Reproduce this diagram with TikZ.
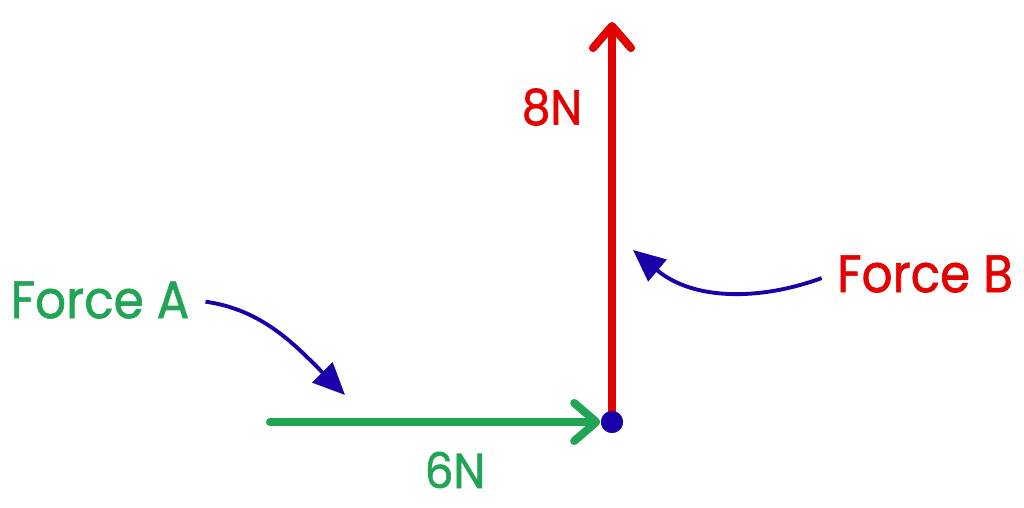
\documentclass[tikz,border=0pt]{standalone}
\usepackage{fontspec}
\setmainfont{Poppins}[FakeBold=1.2, FakeStretch=0.92]
\usetikzlibrary{arrows.meta}

\definecolor{forcegreen}{RGB}{34,164,85}
\definecolor{forcered}{RGB}{229,0,0}
\definecolor{pointblue}{RGB}{26,0,168}

\tikzset{
  force/.style={line width=2.3pt, line cap=round, line join=round,
    arrows={-Straight Barb[length=2.2mm, width=3.8mm, line cap=round, line join=round]}},
  pointer/.style={pointblue, line width=1.1pt,
    arrows={-Triangle[length=3.2mm, width=2.8mm]}},
  label/.style={inner sep=1pt, font=\fontsize{14}{16}\selectfont}
}

\begin{document}
\begin{tikzpicture}
\useasboundingbox (0,0) rectangle (10.24,5.08);
% the point and the two ends
\node[circle, fill=pointblue, inner sep=0pt, minimum size=0.22cm] (O) at (6.12, 0.86) {};
\coordinate (tailA) at (2.70, 0.86);
\coordinate (tipB)  at (6.12, 4.86);
\coordinate (hitA)  at (3.45, 1.13);
\coordinate (hitB)  at (6.33, 2.58);
% forces
\draw [force, forcered]   (O.center) -- (tipB);
\draw [force, forcegreen] (tailA) -- (O.west);
\node[circle, fill=pointblue, inner sep=0pt, minimum size=0.22cm] at (O) {};
% labels
\node[label, forcered]   (eight)  at (5.52, 4.01) {8N};
\node[label, forcegreen] (six)    at (4.55, 0.38) {6N};
\node[label, forcegreen, font=\fontsize{15}{18}\selectfont] (forceA) at (1.00, 2.08) {Force A};
\node[label, forcered,   font=\fontsize{15}{18}\selectfont] (forceB) at (9.25, 2.34) {Force B};
% pointers
\draw [pointer, shorten <=1.2mm] (forceA.east) to[out=-8, in=135] (hitA);
\draw [pointer, shorten <=1.2mm] (forceB.west) to[out=200, in=-40] (hitB);
\end{tikzpicture}
\end{document}
